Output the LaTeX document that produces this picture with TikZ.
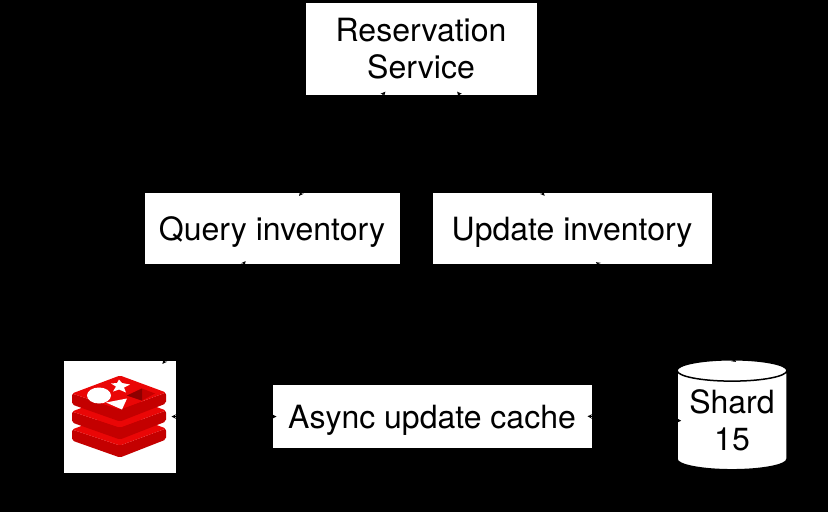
\documentclass[tikz,border=0pt]{standalone}
\usepackage{fontspec}
\setmainfont{TeX Gyre Heros}
\usetikzlibrary{shapes,arrows}
\tikzstyle{r} = [rectangle, fill=white, draw=black, line width=1pt, text=black, align=center, inner sep=0pt, font=\fontsize{32}{37}\selectfont]
\tikzstyle{s} = [r, text depth=0pt]
\tikzstyle{a} = [<->, >=stealth, draw=black, line width=1pt, shorten <=-5pt, shorten >=-5pt]
\tikzstyle{db} = [r, cylinder, shape border rotate=90, aspect=0.25, minimum width=110pt, minimum height=110pt, line width=1.5pt]
\definecolor{redistop}{HTML}{EA0606}
\definecolor{redisside}{HTML}{C40000}
\definecolor{redisdark}{HTML}{8E0000}

\begin{document}
\begin{tikzpicture}[x=1pt,y=1pt,node distance=180pt]
		\fill[black] (0,0) rectangle (828,-512);
		\node[r,minimum width=232pt,minimum height=93pt](rsv) at (421,-48.5){Reservation\\Service};
		\node[s,minimum width=256pt,minimum height=72pt,below of=rsv,xshift=-149pt](qry){Query inventory};
		\node[s,minimum width=280pt,minimum height=72pt,right of=qry,xshift=120pt](upd){Update inventory};
		\node[s,minimum width=320pt,minimum height=64pt,below of=qry,xshift=160pt,yshift=-8pt](async){Async update cache};
		\node[r,draw=none,minimum width=112pt,minimum height=112pt,left of=async,xshift=-132pt](redis){};
		\node[db,right of=async,xshift=120pt,yshift=-4pt](shard){Shard\\15};
		\begin{scope}[shift={(redis.center)},yscale=-1]
			\foreach \d in {36,18,0}{
				\fill[redisside,rounded corners=2pt] (-48,-23+\d) -- (0,-7+\d) -- (46,-24+\d) -- (46,-13+\d) -- (0,5+\d) -- (-48,-12+\d) -- cycle;
				\fill[redistop,rounded corners=2pt] (0,-41+\d) -- (46,-24+\d) -- (0,-7+\d) -- (-48,-23+\d) -- cycle;
			}
			\fill[white] (-21,-21) ellipse (12 and 8);
			\fill[white] (-1,-37) -- (2,-33.5) -- (10,-32) -- (4,-29) -- (6,-24) -- (-1,-27) -- (-7,-25) -- (-4,-30) -- (-9,-33) -- (-3,-33.5) -- cycle;
			\fill[white] (-14,-14) -- (7,-18) -- (2,-7) -- cycle;
			\fill[redisside] (7,-21) -- (22,-28) -- (35,-23) -- (22,-16) -- cycle;
			\fill[redisdark] (7,-21) -- (22,-28) -- (22,-16) -- cycle;
		\end{scope}
		\draw[a] (rsv) -- (qry);
		\draw[a] (rsv) -- (upd);
		\draw[a] (qry) -- (redis);
		\draw[a] ([xshift=28pt]upd.south) -- (shard.north);
		\draw[a] (async) -- (redis);
		\draw[a] (async.east) -- (shard.west);
\end{tikzpicture}
\end{document}
